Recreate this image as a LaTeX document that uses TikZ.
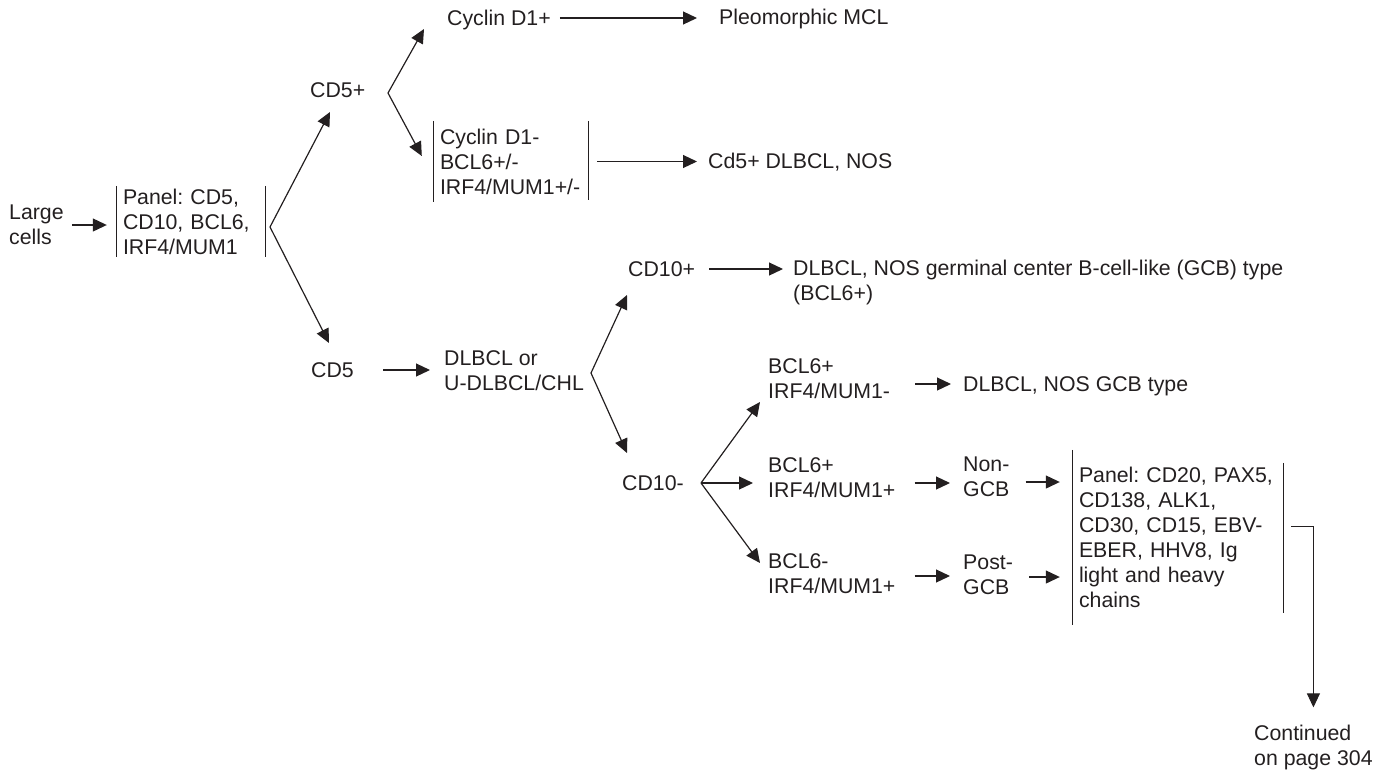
\documentclass[tikz,border=0pt]{standalone}
\usepackage{fontspec}
\setmainfont{Liberation Sans}
\usetikzlibrary{arrows.meta, calc, positioning}
\definecolor{ink}{RGB}{35,31,32}
\frenchspacing

\begin{document}
\begin{tikzpicture}[x=1pt, y=-1pt,
		every node/.style={font=\fontsize{21.3}{25}\selectfont, text=ink, inner sep=0pt},
		lbl/.style={anchor=west, text height=15pt, text depth=0pt},
		stack/.style={anchor=west, align=left},
		panel/.style={align=left, inner xsep=6pt},
		bar/.style={draw=ink, line width=1.1pt},
		arr/.style={draw=ink, line width=1.2pt, -{Triangle[length=14pt,width=13pt]}}]
	\useasboundingbox (0,0) rectangle (1385,772);
	\node[stack] (large) at (9,225) {Large\\cells};
	\node[panel, text width=136pt, minimum height=71pt] (panel1) at (191,221.5) {Panel: CD5,\\CD10, BCL6,\\IRF4/MUM1};
	\node[lbl] (cd5p) at (310,90) {CD5+};
	\node[lbl] (cd5n) at (311,370) {CD5};
	\node[lbl] (cyc1) at (447,18) {Cyclin D1+};
	\node[lbl] (pleo) at (719,17) {Pleomorphic MCL};
	\node[panel, text width=142pt, minimum height=81pt] (cyc2) at (511,161.5) {Cyclin D1-\\BCL6+/-\\IRF4/MUM1+/-};
	\node[lbl] (cd5dl) at (708,161) {Cd5+ DLBCL, NOS};
	\node[stack] (dlor) at (444,371) {DLBCL or\\U-DLBCL/CHL};
	\node[lbl] (cd10p) at (628,269) {CD10+};
	\node[stack] (gcb) at (793,282) {DLBCL, NOS germinal center B-cell-like (GCB) type\\(BCL6+)};
	\node[lbl] (cd10n) at (622,483) {CD10-};
	\node[stack] (b1) at (768,379) {BCL6+\\IRF4/MUM1-};
	\node[stack] (b2) at (768,478) {BCL6+\\IRF4/MUM1+};
	\node[stack] (b3) at (768,574) {BCL6-\\IRF4/MUM1+};
	\node[lbl] (gcbt) at (963,384) {DLBCL, NOS GCB type};
	\node[stack] (nong) at (963,477) {Non-\\GCB};
	\node[stack] (post) at (963,575) {Post-\\GCB};
	\node[panel, text width=198pt, minimum height=175pt] (panel2) at (1178,537.5) {Panel: CD20, PAX5,\\CD138, ALK1,\\CD30, CD15, EBV-\\EBER, HHV8, Ig\\light and heavy\\chains};
	\node[stack] (cont) at (1254,747) {Continued\\on page 304};

	\draw[bar] (panel1.north west) -- (panel1.south west) (panel1.north east) -- (panel1.south east);
	\draw[bar] (cyc2.north west) -- (cyc2.south west) (cyc2.north east) -- ([yshift=2pt]cyc2.south east);
	\draw[bar] (panel2.north west) -- (panel2.south west) ([yshift=-13pt]panel2.north east) -- ([yshift=12pt]panel2.south east);

	\coordinate (f1) at (270,227);
	\coordinate (f2) at (388,93);
	\coordinate (f3) at (591,373);
	\coordinate (f4) at (701,483);

	\draw[arr, shorten <=8pt, shorten >=10pt] (large.east) -- (large.east -| panel1.west);
	\draw[arr] (f1) -- ($(cd5p.west)+(20,22)$);
	\draw[arr] (f1) -- ($(cd5n.west)+(18,-27)$);
	\draw[arr] (f2) -- ($(cyc1.west)+(-23,11)$);
	\draw[arr] (f2) -- ($(cyc2.west)+(-12,-5.5)$);
	\draw[arr, shorten <=9pt, shorten >=22pt] (cyc1.east) -- (cyc1.east -| pleo.west);
	\draw[arr, shorten <=9pt, shorten >=11pt] (cyc2.east) -- (cyc2.east -| cd5dl.west);
	\draw[arr, shorten <=29pt, shorten >=14pt] (cd5n.east) -- (cd5n.east -| dlor.west);
	\draw[arr] (f3) -- ($(cd10p.west)+(-1,26)$);
	\draw[arr] (f3) -- ($(cd10n.west)+(5,-30)$);
	\draw[arr, shorten <=14pt, shorten >=10pt] (cd10p.east) -- (cd10p.east -| gcb.west);
	\draw[arr] (f4) -- ($(b1.west)+(-8,23)$);
	\draw[arr] (f4) -- ($(b2.west)+(-15,5)$);
	\draw[arr] (f4) -- ($(b3.west)+(-8,-11)$);
	\draw[arr, shorten <=25pt, shorten >=12pt] (b1.east |- gcbt.west) -- (gcbt.west);
	\draw[arr, shorten <=19pt, shorten >=13pt] ([yshift=-5pt]b2.east) -- ([yshift=-5pt]b2.east -| nong.west);
	\draw[arr, shorten <=19pt, shorten >=13pt] ([yshift=-2pt]b3.east) -- ([yshift=-2pt]b3.east -| post.west);
	\draw[arr, shorten <=16pt, shorten >=13pt] ([yshift=-5pt]nong.east) -- ([yshift=-5pt]nong.east -| panel2.west);
	\draw[arr, shorten <=16pt, shorten >=13pt] ([yshift=-2pt]post.east) -- ([yshift=-2pt]post.east -| panel2.west);
	\draw[arr, line width=1pt, shorten >=17pt] ($(panel2.east)+(8,-11.5)$) -| (cont.north);
\end{tikzpicture}
\end{document}
